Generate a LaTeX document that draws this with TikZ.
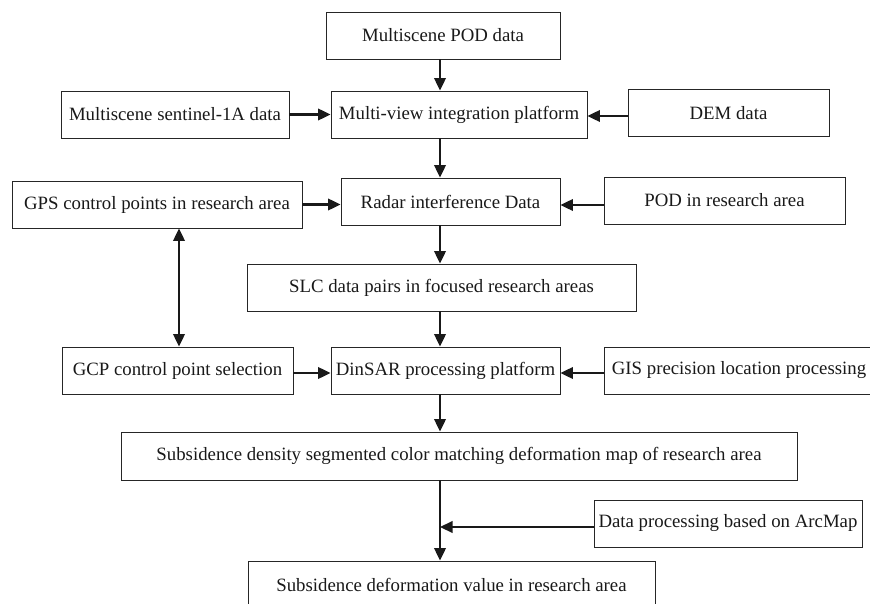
\documentclass[tikz,border=0pt]{standalone}
\usepackage{fontspec}
\setmainfont{Liberation Serif}
\usetikzlibrary{arrows.meta}

\begin{document}
\begin{tikzpicture}[x=1pt,y=-1pt,
		blk/.style={draw=black!85,line width=0.9pt,inner sep=0pt,minimum height=47pt,font=\fontsize{18.8}{20}\selectfont,text=black!90},
		tip/.tip={Triangle[length=12.5pt,width=11.5pt]},
		flow/.style={line width=2.2pt,black!90,-tip}]
		\useasboundingbox (0,0) rectangle (870,604);
		\clip (0,0) rectangle (870,604);
		\node[blk,minimum width=234pt] (pod) at (443,35.5) {Multiscene POD data};
		\node[blk,minimum width=228pt] (sent) at (175,114.5) {Multiscene sentinel-1A data};
		\node[blk,minimum width=256pt] (mvi) at (459,114.5) {Multi-view integration platform};
		\node[blk,minimum width=201pt] (dem) at (728.5,113) {DEM data};
		\node[blk,minimum width=290pt] (gps) at (157,204.5) {GPS control points in research area};
		\node[blk,minimum width=219pt] (radar) at (450.5,201.5) {Radar interference Data};
		\node[blk,minimum width=241pt] (podra) at (724.5,200.5) {POD in research area};
		\node[blk,minimum width=389pt] (slc) at (441.5,287.5) {SLC data pairs in focused research areas};
		\node[blk,minimum width=231pt] (gcp) at (177.5,370.5) {GCP control point selection};
		\node[blk,minimum width=229pt] (dinsar) at (445.5,370.5) {DinSAR processing platform};
		\node[blk,minimum width=270pt] (gis) at (739,370.5) {GIS precision location processing};
		\node[blk,minimum width=676pt,minimum height=48pt] (dens) at (459,456) {Subsidence density segmented color matching deformation map of research area};
		\node[blk,minimum width=268pt] (arc) at (728,523.5) {Data processing based on ArcMap};
		\node[blk,minimum width=407pt,minimum height=48pt] (final) at (451.5,585) {Subsidence deformation value in research area};
		\coordinate (spine) at (440,0);
		\coordinate (join) at (440,527);
		% main column
		\draw[flow] (pod.south -| spine) -- (mvi.north -| spine);
		\draw[flow] (mvi.south -| spine) -- (radar.north -| spine);
		\draw[flow] (radar.south -| spine) -- (slc.north -| spine);
		\draw[flow] (slc.south -| spine) -- (dinsar.north -| spine);
		\draw[flow] (dinsar.south -| spine) -- (dens.north -| spine);
		\draw[flow] (dens.south -| spine) -- (final.north -| spine);
		% side inputs
		\draw[flow] (sent.east) -- (sent.east -| mvi.west);
		\draw[flow] (dem.west |- 0,116) -- (mvi.east |- 0,116);
		\draw[flow] (gps.east) -- (gps.east -| radar.west);
		\draw[flow] (podra.west |- 0,205) -- (radar.east |- 0,205);
		\draw[flow] (gcp.east |- 0,373) -- (dinsar.west |- 0,373);
		\draw[flow] (gis.west |- 0,373) -- (dinsar.east |- 0,373);
		\draw[flow] (arc.west |- join) -- (join);
		\draw[flow,tip-tip] (gps.south -| 179,0) -- (gcp.north -| 179,0);
	\end{tikzpicture}
\end{document}
